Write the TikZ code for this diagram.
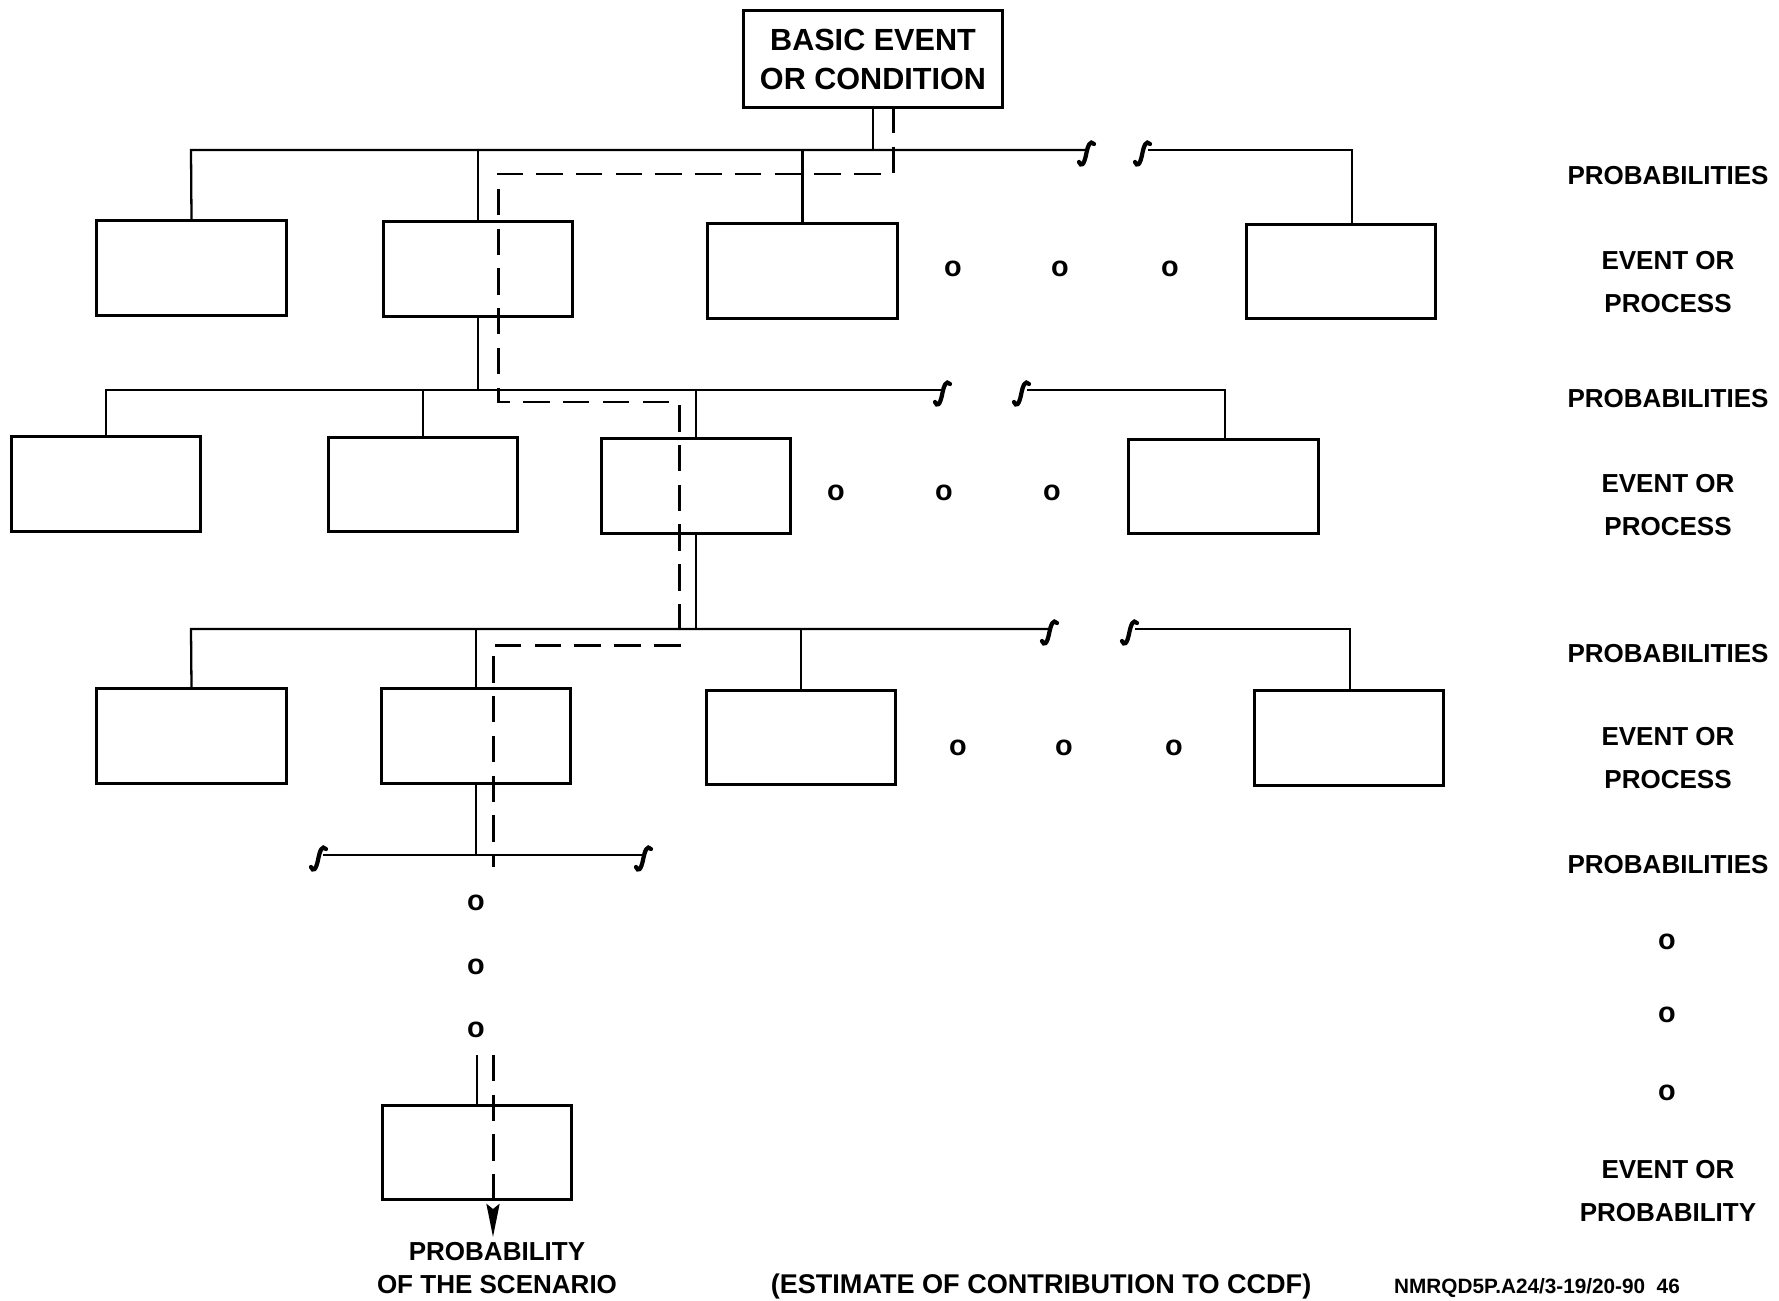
\documentclass[tikz,border=0pt]{standalone}
\usepackage{fontspec}
\setmainfont{Liberation Sans}
\usetikzlibrary{arrows.meta}
\begin{document}
\begin{tikzpicture}[x=0.01cm, y=-0.01cm,
    every node/.style={font=\bfseries\fontsize{7.4}{12}\selectfont, align=center, inner sep=0pt},
    evbox/.style={draw, line width=0.85pt, minimum width=1.89cm, minimum height=0.94cm},
    dot/.style={font=\bfseries\fontsize{8.2}{10}\selectfont},
    link/.style={line width=0.65pt},
    scen/.style={line width=0.85pt, dash pattern=on 7.5pt off 3.8pt},
    brk/.pic={\draw[line width=1.2pt, line cap=round] (-7,9) .. controls (-5,14) and (-2,12) .. (0,2) .. controls (2,-8) and (4,-13) .. (8,-9);}]
    \useasboundingbox (0,0) rectangle (1779,1300);
    % initiating event
    \node[draw, line width=0.85pt, minimum width=2.58cm, minimum height=0.96cm,
          font=\bfseries\fontsize{8.7}{11.1}\selectfont] (top) at (873,59) {BASIC EVENT\\OR CONDITION};
    % first level
    \node[evbox] (a1) at (191.5,268) {};
    \node[evbox] (a2) at (478,269) {};
    \node[evbox] (a3) at (802.5,271) {};
    \node[evbox] (a4) at (1341,271.5) {};
    \coordinate (p1) at (191,150);
    \coordinate (q1) at (1086,150);
    \coordinate (r1) at (1148,150);
    \coordinate (s1) at (1352,150);
    \draw[link] (top.south) -- (top.south |- p1);
    \draw[link] (a1.north) -- (p1) -- (q1);
    \draw[link] (r1) -- (s1) -- (a4.north -| s1);
    \draw[link] (a2.north) -- (a2.north |- p1);
    \draw[link] (a3.north) -- (a3.north |- p1);
    \pic at (1086,153) {brk};
    \pic at (1142,153) {brk};
    \node[dot] (o11) at (953,269) {o};
    \node[dot] (o12) at (1060,269) {o};
    \node[dot] (o13) at (1170,269) {o};
    % second level
    \node[evbox] (b1) at (106,484) {};
    \node[evbox] (b2) at (423,484.5) {};
    \node[evbox] (b3) at (696,486) {};
    \node[evbox] (b4) at (1223.5,486.5) {};
    \coordinate (p2) at (106,390);
    \coordinate (q2) at (942,390);
    \coordinate (r2) at (1027,390);
    \coordinate (s2) at (1225,390);
    \draw[link] (a2.south) -- (a2.south |- p2);
    \draw[link] (b1.north) -- (p2) -- (q2);
    \draw[link] (r2) -- (s2) -- (b4.north -| s2);
    \draw[link] (b2.north) -- (b2.north |- p2);
    \draw[link] (b3.north) -- (b3.north |- p2);
    \pic at (942,393) {brk};
    \pic at (1021,393) {brk};
    \node[dot] (o21) at (836,493) {o};
    \node[dot] (o22) at (944,493) {o};
    \node[dot] (o23) at (1052,493) {o};
    % third level
    \node[evbox] (c1) at (191.5,736) {};
    \node[evbox] (c2) at (476,736) {};
    \node[evbox] (c3) at (801,737.5) {};
    \node[evbox] (c4) at (1349,738) {};
    \coordinate (p3) at (191,629);
    \coordinate (q3) at (1049,629);
    \coordinate (r3) at (1135,629);
    \coordinate (s3) at (1350,629);
    \draw[link] (b3.south) -- (b3.south |- p3);
    \draw[link] (c1.north) -- (p3) -- (q3);
    \draw[link] (r3) -- (s3) -- (c4.north -| s3);
    \draw[link] (c2.north) -- (c2.north |- p3);
    \draw[link] (c3.north) -- (c3.north |- p3);
    \pic at (1049,632) {brk};
    \pic at (1129,632) {brk};
    \node[dot] (o31) at (958,748) {o};
    \node[dot] (o32) at (1064,748) {o};
    \node[dot] (o33) at (1174,748) {o};
    % fourth level and last event
    \coordinate (p4) at (323,855);
    \coordinate (q4) at (643,855);
    \draw[link] (c2.south) -- (c2.south |- p4);
    \draw[link] (p4) -- (q4);
    \pic at (318,858) {brk};
    \pic at (643,858) {brk};
    \node[dot] (o41) at (476,903) {o};
    \node[dot] (o42) at (476,967) {o};
    \node[dot] (o43) at (476,1030) {o};
    \node[evbox] (d) at (477,1152.5) {};
    \coordinate (t5) at (477,1055);
    \draw[link] (t5) -- (d.north -| t5);
    \node[font=\bfseries\fontsize{7.4}{9.2}\selectfont] (prob) at (497,1268) {PROBABILITY\\OF THE SCENARIO};
    % scenario path
    \coordinate (k0) at (893,107);
    \coordinate (k1) at (498,174);
    \coordinate (k2) at (679,402);
    \coordinate (k3) at (493,645);
    \coordinate (k4) at (493,867);
    \coordinate (k5) at (493,1055);
    \coordinate (k6) at (493,1237);
    \draw[scen] (k0) |- (k1) |- (k2) |- (k3) -- (k4);
    \draw[scen, -{Stealth[length=0.33cm, width=0.13cm, inset=0.05cm]}] (k5) -- (k6);
    % right column
    \node (pr1) at (1668,176) {PROBABILITIES};
    \node (ep1) at (1668,282) {EVENT OR\\PROCESS};
    \node (pr2) at (1668,399) {PROBABILITIES};
    \node (ep2) at (1668,505) {EVENT OR\\PROCESS};
    \node (pr3) at (1668,654) {PROBABILITIES};
    \node (ep3) at (1668,758) {EVENT OR\\PROCESS};
    \node (pr4) at (1668,865) {PROBABILITIES};
    \node[dot] (v1) at (1667,942) {o};
    \node[dot] (v2) at (1667,1015) {o};
    \node[dot] (v3) at (1667,1093) {o};
    \node (ep4) at (1668,1191) {EVENT OR\\PROBABILITY};
    % notes
    \node[font=\bfseries\fontsize{7.7}{9}\selectfont] (ccdf) at (1041,1286) {(ESTIMATE OF CONTRIBUTION TO CCDF)};
    \node[font=\bfseries\fontsize{5.9}{7}\selectfont] (ref) at (1537,1288) {NMRQD5P.A24/3-19/20-90~~46};
\end{tikzpicture}
\end{document}
